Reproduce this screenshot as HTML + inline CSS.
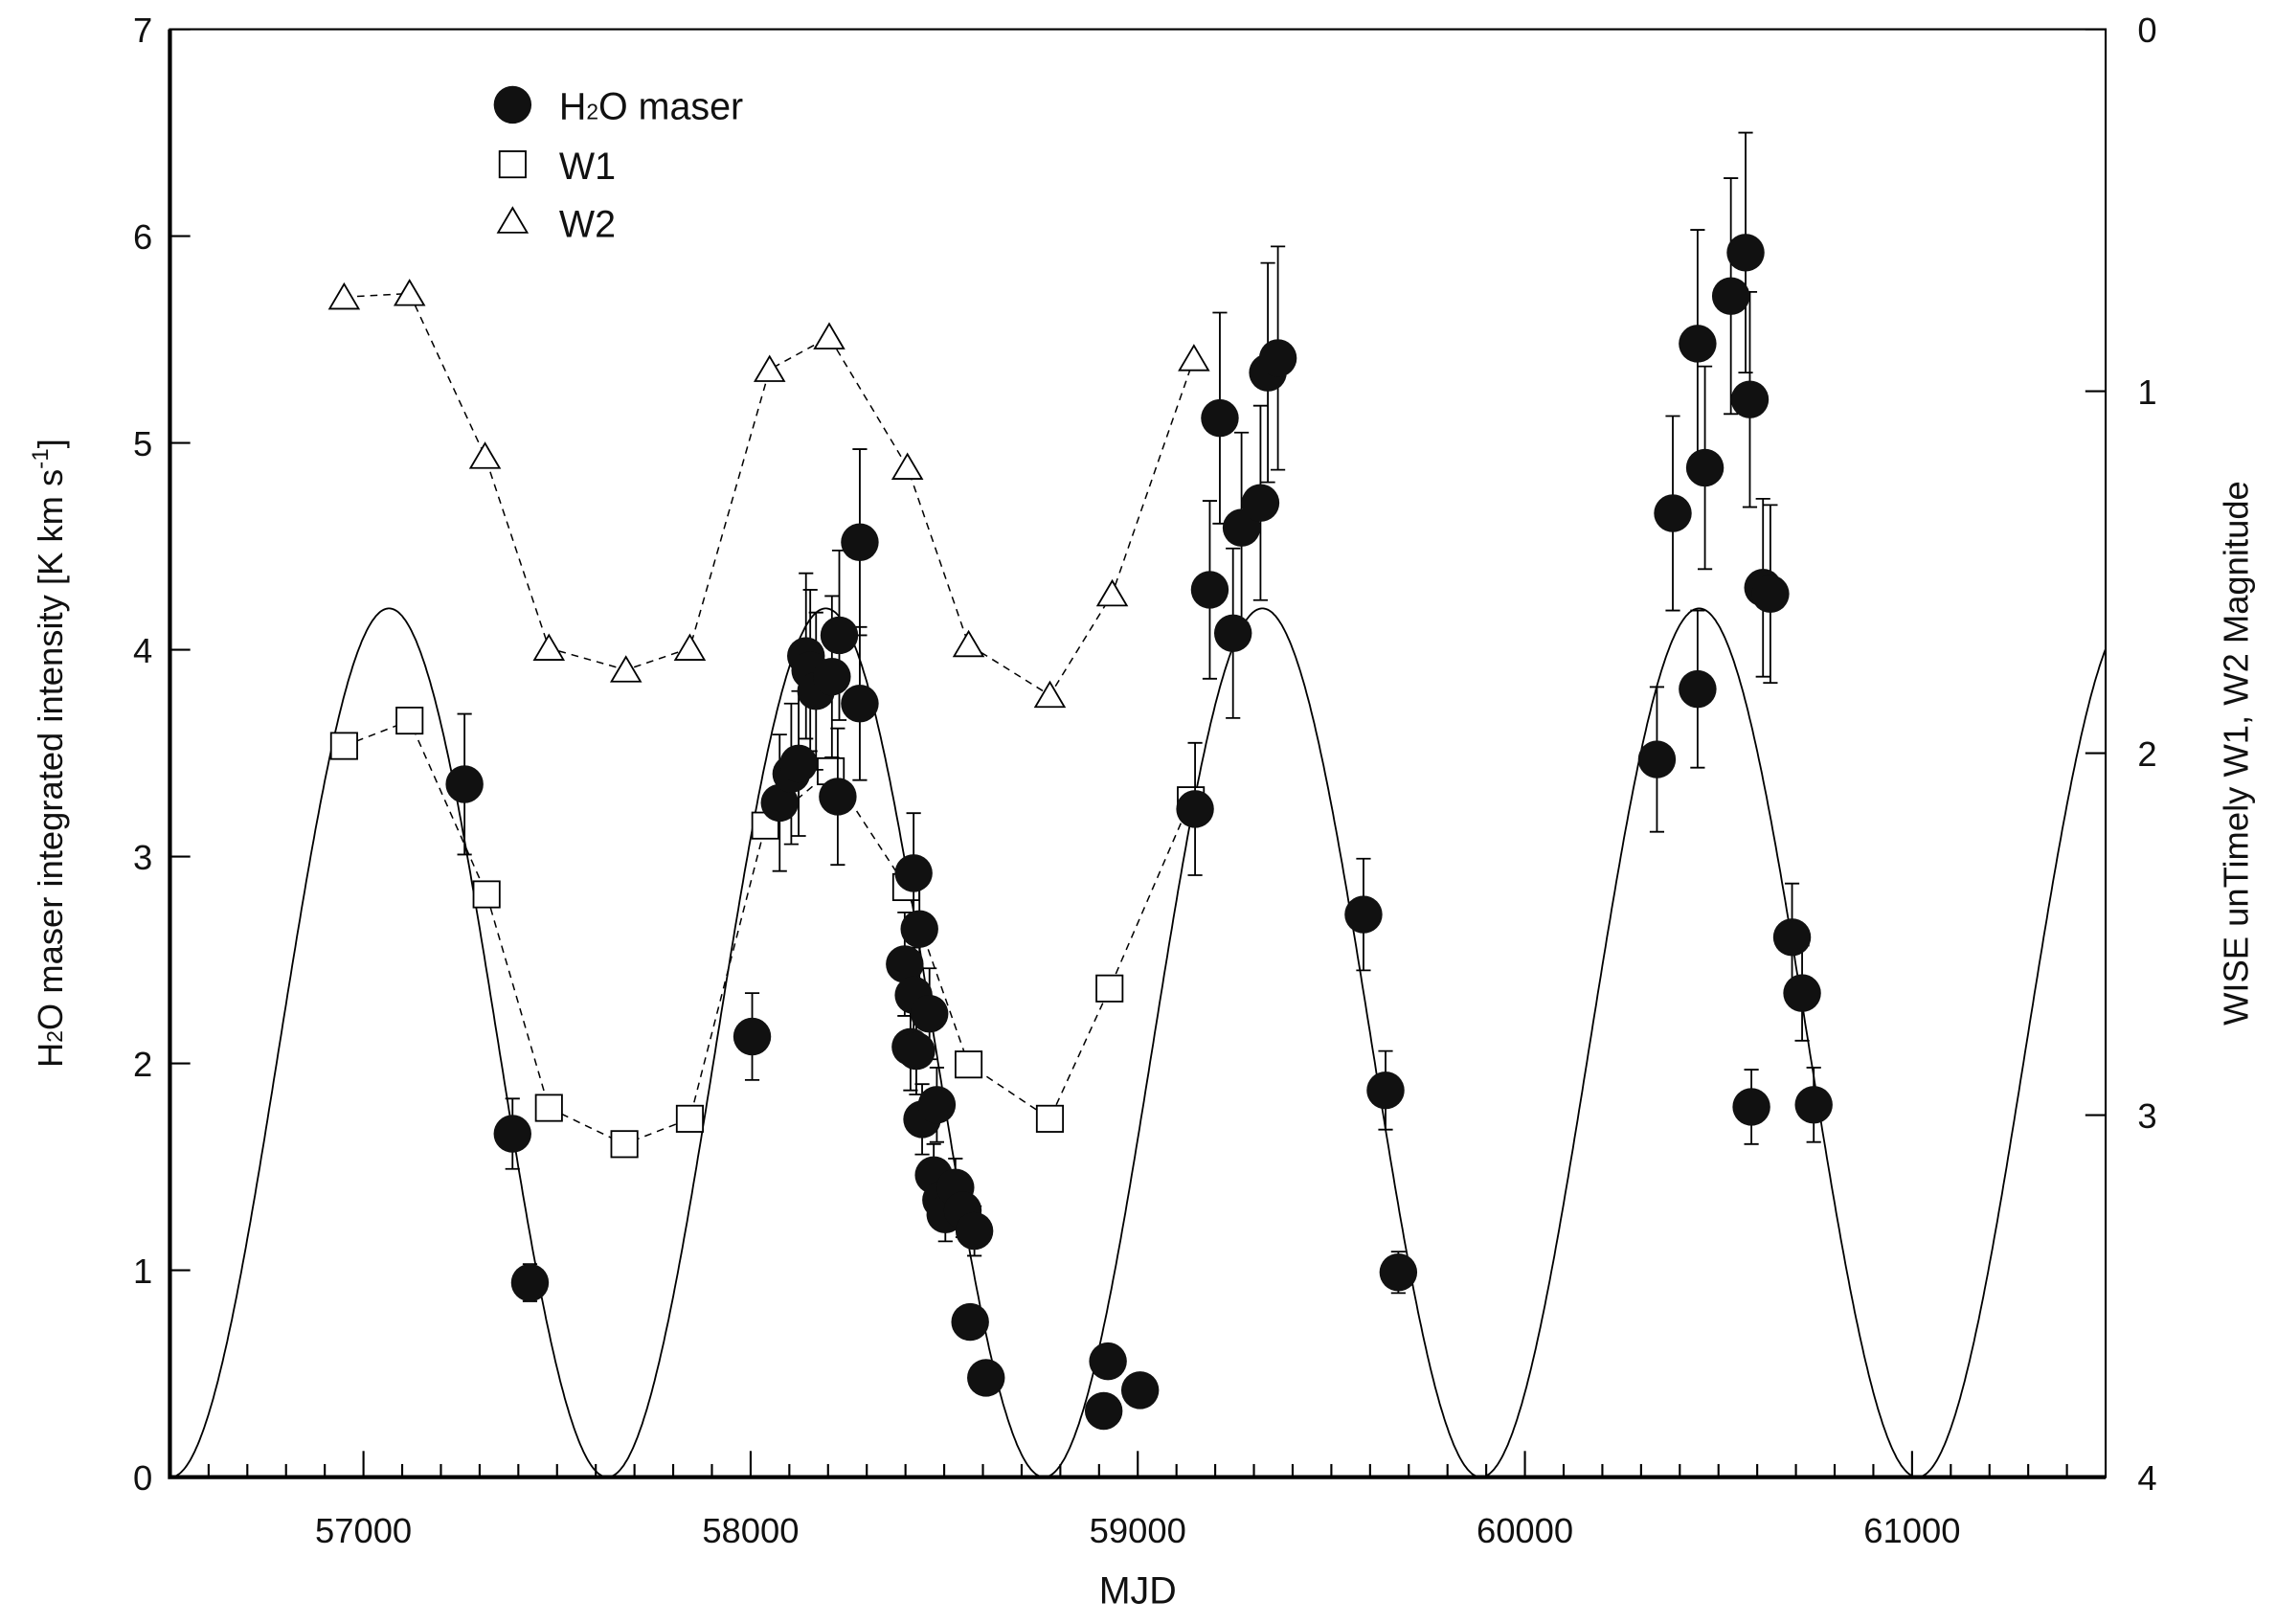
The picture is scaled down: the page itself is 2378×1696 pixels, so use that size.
<!DOCTYPE html>
<html><head><meta charset="utf-8"><style>
html,body{margin:0;padding:0;background:#fff}
svg{display:block}
text{font-family:"Liberation Sans",sans-serif;fill:#111}
</style></head><body>
<svg id="chart" width="2378" height="1696" viewBox="0 0 1568 1118" xmlns="http://www.w3.org/2000/svg">
<g id="g"></g>
</svg>
<script>
const maserMJD=[57261,57385,57430,58004,58075,58105,58124,58143,58154,58169,58210,58229,58225,58282,58282,58421,58398,58421,58436,58462,58413,58428,58443,58481,58473,58492,58503,58529,58548,58578,58567,58608,58912,58923,59006,59148,59186,59212,59246,59268,59317,59336,59362,59583,59640,59673,60341,60382,60446,60465,60446,60532,60570,60581,60615,60634,60585,60690,60716,60746];
const maserVal=[3.35,1.66,0.94,2.13,3.26,3.40,3.45,3.97,3.90,3.80,3.87,4.07,3.29,3.74,4.52,2.92,2.48,2.33,2.65,2.24,2.08,2.06,1.73,1.80,1.46,1.34,1.27,1.40,1.29,1.19,0.75,0.48,0.32,0.56,0.42,3.23,4.29,5.12,4.08,4.59,4.71,5.34,5.41,2.72,1.87,0.99,3.47,4.66,5.48,4.88,3.81,5.71,5.92,5.21,4.30,4.27,1.79,2.61,2.34,1.80];
const maserErr=[0.34,0.17,0.09,0.21,0.33,0.34,0.35,0.40,0.39,0.38,0.39,0.41,0.33,0.37,0.45,0.29,0.25,0.23,0.27,0.22,0.21,0.21,0.17,0.18,0.15,0.13,0.13,0.14,0.13,0.12,0.08,0.05,0.03,0.06,0.04,0.32,0.43,0.51,0.41,0.46,0.47,0.53,0.54,0.27,0.19,0.10,0.35,0.47,0.55,0.49,0.38,0.57,0.58,0.52,0.43,0.43,0.18,0.26,0.23,0.18];
const w1MJD=[56950,57119,57318,57479,57674,57843,58038,58207,58402,58563,58773,58927,59137];
const w1Mag=[1.98,1.91,2.39,2.98,3.08,3.01,2.20,2.05,2.37,2.86,3.01,2.65,2.13];
const w2MJD=[56950,57119,57314,57479,57678,57843,58049,58203,58405,58563,58773,58934,59145];
const w2Mag=[0.74,0.73,1.18,1.71,1.77,1.71,0.94,0.85,1.21,1.70,1.84,1.56,0.91];
const xTicks=[57000,58000,59000,60000,61000];
const yTicks=[0,1,2,3,4,5,6,7];
const y2Ticks=[0,1,2,3,4];
const modelPeak=[57066];
const modelPeriod=[1128];
const modelAmp=[4.2];

const L=117,R=1450,T=20,B=1017;
const X=v=>L+(v-56500)/5000*(R-L);
const Y=v=>B-v/7*(B-T);
const Y2=m=>T+m/4*(B-T);
const g=document.getElementById('g');
const NS='http://www.w3.org/2000/svg';
function mk(tag,attrs,parent){const e=document.createElementNS(NS,tag);for(const k in attrs)e.setAttribute(k,attrs[k]);(parent||g).appendChild(e);return e;}

// ticks
for(let v=56600;v<=61400;v+=100){const big=v%1000===0;const x=X(v);
 const t=mk('line',{x1:x,x2:x,y1:B,y2:B-(big?18:9),stroke:'#000','stroke-width':1.4});
 
 }
xTicks.forEach(v=>{const t=mk('text',{x:X(v),y:B+45,'text-anchor':'middle','font-size':24});t.textContent=v;
 
 });
yTicks.forEach(v=>{const y=Y(v);
 const t=mk('line',{x1:L,x2:L+14,y1:y,y2:y,stroke:'#000','stroke-width':1.4});
 
 });
yTicks.forEach(v=>{const t=mk('text',{x:L-12,y:Y(v)+9,'text-anchor':'end','font-size':24});t.textContent=v;
 
 });
y2Ticks.forEach(m=>{const y=Y2(m);
 const t=mk('line',{x1:R,x2:R-14,y1:y,y2:y,stroke:'#000','stroke-width':1.4});
 
 });
y2Ticks.forEach(m=>{const t=mk('text',{x:R+22,y:Y2(m)+9,'text-anchor':'start','font-size':24});t.textContent=m;
 
 });

// model curve
let d='';for(let v=56500;v<=61500;v+=4){const val=modelAmp[0]/2*(1+Math.cos(2*Math.PI*(v-modelPeak[0])/modelPeriod[0]));d+=(d?'L':'M')+X(v).toFixed(1)+','+Y(val).toFixed(1);}
const mc=mk('path',{d:d,fill:'none',stroke:'#000','stroke-width':1.2});



const w2d=w2MJD.map((v,i)=>(i?'L':'M')+X(v)+','+Y2(w2Mag[i])).join('');
const w2l=mk('path',{d:w2d,fill:'none',stroke:'#000','stroke-width':1,'stroke-dasharray':'5,4'});


const w1d=w1MJD.map((v,i)=>(i?'L':'M')+X(v)+','+Y2(w1Mag[i])).join('');
const w1l=mk('path',{d:w1d,fill:'none',stroke:'#000','stroke-width':1,'stroke-dasharray':'5,4'});


w2MJD.forEach((v,i)=>{const x=X(v),y=Y2(w2Mag[i]);
 const p=mk('polygon',{points:`${x},${y-9} ${x-10},${y+8} ${x+10},${y+8}`,fill:'#fff',stroke:'#000','stroke-width':1.2});
 
 });
w1MJD.forEach((v,i)=>{const x=X(v),y=Y2(w1Mag[i]);
 const p=mk('rect',{x:x-9,y:y-9,width:18,height:18,fill:'#fff',stroke:'#000','stroke-width':1.2});
 
 });

maserMJD.forEach((v,i)=>{const x=X(v),y1=Y(maserVal[i]+maserErr[i]),y0=Y(maserVal[i]-maserErr[i]);
 const e=mk('path',{d:`M${x},${y0}L${x},${y1}M${x-5},${y0}L${x+5},${y0}M${x-5},${y1}L${x+5},${y1}`,stroke:'#000','stroke-width':1.2,fill:'none'});
 
 });
maserMJD.forEach((v,i)=>{const c=mk('circle',{cx:X(v),cy:Y(maserVal[i]),r:13,fill:'#111'});
 
 });

// frame
const fr=mk('rect',{x:L,y:T,width:R-L,height:B-T,fill:'none',stroke:'#000','stroke-width':1.4});


const ax=mk('path',{d:`M${L},${T}L${L},${B}L${R},${B}`,fill:'none',stroke:'#000','stroke-width':2.8});



const xt=mk('text',{x:(L+R)/2,y:1104,'text-anchor':'middle','font-size':26});xt.textContent='MJD';


const yt=mk('text',{transform:`translate(43,${(T+B)/2}) rotate(-90)`,'text-anchor':'middle','font-size':24});
yt.innerHTML='H<tspan font-size="15">2</tspan>O maser integrated intensity [K km s<tspan dy="-10" font-size="16">-1</tspan><tspan dy="10">]</tspan>';


const y2t=mk('text',{transform:`translate(1548,${(T+B)/2}) rotate(-90)`,'text-anchor':'middle','font-size':24});y2t.textContent='WISE unTimely  W1, W2  Magnitude';



const lg=mk('g',{});


const lc=mk('circle',{cx:353,cy:72,r:13,fill:'#111'},lg);


const l1=mk('text',{x:385,y:82,'font-size':26},lg);l1.innerHTML='H<tspan font-size="15">2</tspan>O maser';


const lr=mk('rect',{x:344,y:104,width:18,height:18,fill:'#fff',stroke:'#000','stroke-width':1.2},lg);


const l2=mk('text',{x:385,y:123,'font-size':26},lg);l2.textContent='W1';


const lt=mk('polygon',{points:'353,143 343,160 363,160',fill:'#fff',stroke:'#000','stroke-width':1.2},lg);


const l3=mk('text',{x:385,y:163,'font-size':26},lg);l3.textContent='W2';


</script>
</body></html>
